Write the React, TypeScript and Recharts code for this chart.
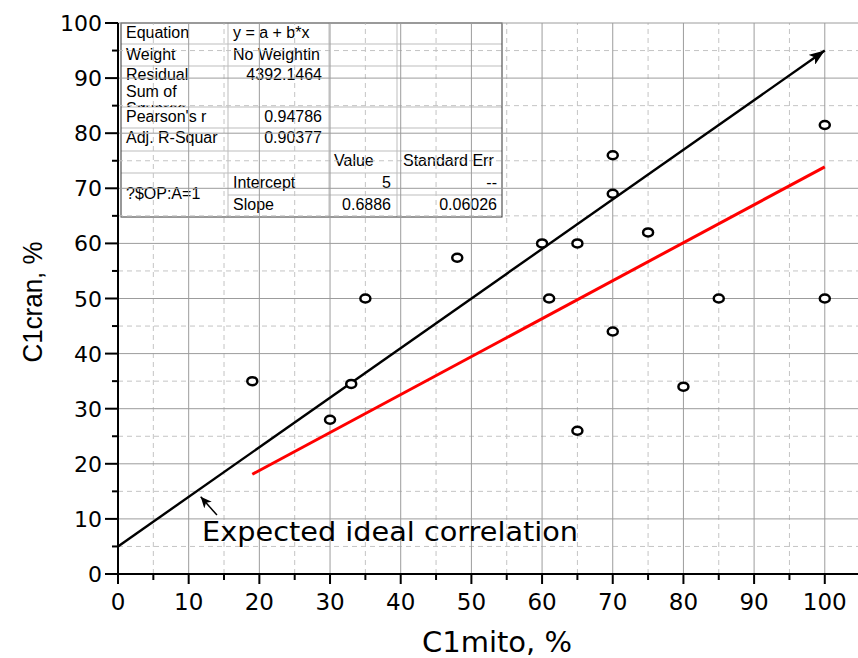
import React from 'react';
import { ScatterChart, Scatter, XAxis, YAxis, ReferenceLine, Customized } from 'recharts';

// measured points (C1mito, C1cran)
const points = [
  { x: 19, y: 35 },
  { x: 30, y: 28 },
  { x: 33, y: 34.5 },
  { x: 35, y: 50 },
  { x: 48, y: 57.4 },
  { x: 60, y: 60 },
  { x: 61, y: 50 },
  { x: 65, y: 60 },
  { x: 65, y: 26 },
  { x: 70, y: 76 },
  { x: 70, y: 69 },
  { x: 70, y: 44 },
  { x: 75, y: 62 },
  { x: 80, y: 34 },
  { x: 85, y: 50 },
  { x: 100, y: 81.5 },
  { x: 100, y: 50 },
];

const fitLine = [{ x: 19, y: 18.1 }, { x: 100, y: 73.9 }];
const idealLine = [{ x: 0, y: 5 }, { x: 100, y: 95 }];
const pointerArrow = [{ x: 14, y: 10.7 }, { x: 11.7, y: 14 }];
const noteAnchor = [{ x: 11.9, y: 6 }];
const noteText = 'Expected ideal correlation';

const xTicks = [0, 5, 10, 15, 20, 25, 30, 35, 40, 45, 50, 55, 60, 65, 70, 75, 80, 85, 90, 95, 100];
const yTicks = [0, 5, 10, 15, 20, 25, 30, 35, 40, 45, 50, 55, 60, 65, 70, 75, 80, 85, 90, 95, 100];
const majorGrid = [10, 20, 30, 40, 50, 60, 70, 80, 90, 100];
const minorGrid = [5, 15, 25, 35, 45, 55, 65, 75, 85, 95];

// fit results box
const statLabels = ['Equation', 'Weight', 'Residual', "Pearson's r", 'Adj. R-Squar'];
const statValues = ['y = a + b*x', 'No Weightin', '4392.1464', '0.94786', '0.90377'];
const paramHeader = ['Value', 'Standard Err'];
const paramNames = ['Intercept', 'Slope'];
const paramValues = ['5', '0.6886'];
const paramErrors = ['--', '0.06026'];
const groupLabel = '?$OP:A=1';

const sans = 'Liberation Sans, Arial, sans-serif';
const wide = 'DejaVu Sans, sans-serif';

const XTick = (props: any) => {
  const { x, y, payload } = props;
  const major = payload.value % 10 === 0;
  return (
    <g>
      <line x1={x} x2={x} y1={y} y2={y + (major ? 10 : 6)} stroke="#000" strokeWidth={2} />
      {major && (
        <text x={x} y={y + 36} textAnchor="middle" fontFamily={wide} fontSize={23} fill="#000">
          {payload.value}
        </text>
      )}
    </g>
  );
};

const YTick = (props: any) => {
  const { x, y, payload } = props;
  const major = payload.value % 10 === 0;
  return (
    <g>
      <line x1={x} x2={x - (major ? 13 : 6)} y1={y} y2={y} stroke="#000" strokeWidth={2} />
      {major && (
        <text x={x - 16} y={y + 8} textAnchor="end" fontFamily={wide} fontSize={22} fill="#000">
          {payload.value}
        </text>
      )}
    </g>
  );
};

const Markers = () => (
  <defs>
    <marker id="bigArrow" markerUnits="userSpaceOnUse" markerWidth={18} markerHeight={12} refX={16} refY={6} orient="auto">
      <path d="M0,0 L16,6 L0,12 L4,6 Z" fill="#000" />
    </marker>
    <marker id="smallArrow" markerUnits="userSpaceOnUse" markerWidth={12} markerHeight={10} refX={11} refY={5} orient="auto">
      <path d="M0,0 L11,5 L0,10 L3,5 Z" fill="#000" />
    </marker>
    <clipPath id="residClip">
      <rect x={121} y={66} width={107} height={41} />
    </clipPath>
  </defs>
);

const FitTable = () => {
  const cols = [121, 228, 329, 397, 502];
  const rows = [23, 44, 66, 107, 128, 151, 173, 195, 217];
  const base = [38, 60, 80, 122, 143];
  const txt = { fontFamily: sans, fontSize: 16, fill: '#000' };
  return (
    <g>
      <rect x={cols[0]} y={rows[0]} width={cols[4] - cols[0]} height={rows[8] - rows[0]} fill="#fff" />
      {rows.slice(1, 7).map((r) => (
        <line key={r} x1={cols[0]} x2={cols[4]} y1={r} y2={r} stroke="#bdbdbd" />
      ))}
      <line x1={cols[1]} x2={cols[4]} y1={rows[7]} y2={rows[7]} stroke="#bdbdbd" />
      {cols.slice(1, 4).map((c) => (
        <line key={c} x1={c} x2={c} y1={rows[0]} y2={rows[8]} stroke="#bdbdbd" />
      ))}
      <rect x={cols[0]} y={rows[0]} width={cols[4] - cols[0]} height={rows[8] - rows[0]} fill="none" stroke="#333" />
      {statLabels.map((s, i) =>
        i === 2 ? (
          <g key={s} clipPath="url(#residClip)">
            <text x={126} y={80} {...txt}>Residual</text>
            <text x={126} y={97} {...txt}>Sum of</text>
            <text x={126} y={114} {...txt}>Squares</text>
          </g>
        ) : (
          <text key={s} x={126} y={base[i]} {...txt}>{s}</text>
        )
      )}
      {statValues.map((s, i) =>
        i < 2 ? (
          <text key={s} x={233} y={base[i]} {...txt}>{s}</text>
        ) : (
          <text key={s} x={322} y={base[i]} textAnchor="end" {...txt}>{s}</text>
        )
      )}
      <text x={334} y={166} {...txt}>{paramHeader[0]}</text>
      <text x={403} y={166} {...txt}>{paramHeader[1]}</text>
      <text x={126} y={199} {...txt}>{groupLabel}</text>
      {paramNames.map((s, i) => (
        <g key={s}>
          <text x={233} y={188 + i * 22} {...txt}>{s}</text>
          <text x={391} y={188 + i * 22} textAnchor="end" {...txt}>{paramValues[i]}</text>
          <text x={497} y={188 + i * 22} textAnchor="end" {...txt}>{paramErrors[i]}</text>
        </g>
      ))}
    </g>
  );
};

const Dot = (p: any) => (
  <ellipse cx={p.cx} cy={p.cy} rx={5} ry={4} fill="#fff" stroke="#000" strokeWidth={2.5} />
);

const Empty = () => <g />;

const Note = (p: any) => (
  <text x={p.cx} y={p.cy} fontFamily={wide} fontSize={26} textLength={376} lengthAdjust="spacingAndGlyphs" fill="#000">
    {noteText}
  </text>
);

export default function App() {
  return (
    <div style={{ position: 'absolute', left: 0, top: 0, background: '#fff' }}>
      <ScatterChart width={858} height={658} margin={{ top: 23, right: 0, bottom: 0, left: 0 }}>
        <Customized component={<Markers />} />
        {minorGrid.map((v) => (
          <ReferenceLine key={'mx' + v} x={v} stroke="#c4c4c4" strokeDasharray="5 4" />
        ))}
        {minorGrid.map((v) => (
          <ReferenceLine key={'my' + v} y={v} stroke="#c4c4c4" strokeDasharray="5 4" />
        ))}
        {majorGrid.map((v) => (
          <ReferenceLine key={'Mx' + v} x={v} stroke="#9c9c9c" />
        ))}
        {majorGrid.map((v) => (
          <ReferenceLine key={'My' + v} y={v} stroke="#9c9c9c" />
        ))}
        <XAxis
          type="number"
          dataKey="x"
          domain={[0, 104.7]}
          ticks={xTicks}
          interval={0}
          height={84}
          allowDataOverflow
          axisLine={{ stroke: '#000', strokeWidth: 2 }}
          tickLine={false}
          tickSize={0}
          tickMargin={0}
          tick={<XTick />}
          label={{
            content: () => (
              <text x={497} y={652} textAnchor="middle" fontFamily={wide} fontSize={28} textLength={150} lengthAdjust="spacingAndGlyphs" fill="#000">
                C1mito, %
              </text>
            ),
          }}
        />
        <YAxis
          type="number"
          dataKey="y"
          domain={[0, 100]}
          ticks={yTicks}
          interval={0}
          width={118}
          allowDataOverflow
          axisLine={{ stroke: '#000', strokeWidth: 2 }}
          tickLine={false}
          tickSize={0}
          tickMargin={0}
          tick={<YTick />}
          label={{
            content: () => (
              <text x={42} y={302} transform="rotate(-90 42 302)" textAnchor="middle" fontFamily={sans} fontSize={27} textLength={121} lengthAdjust="spacingAndGlyphs" fill="#000">
                C1cran, %
              </text>
            ),
          }}
        />
        <Customized component={<FitTable />} />
        <Scatter data={idealLine} isAnimationActive={false} shape={<Empty />} line={{ stroke: '#000', strokeWidth: 2.4, markerEnd: 'url(#bigArrow)' }} />
        <Scatter data={pointerArrow} isAnimationActive={false} shape={<Empty />} line={{ stroke: '#000', strokeWidth: 1.5, markerEnd: 'url(#smallArrow)' }} />
        <Scatter data={fitLine} isAnimationActive={false} shape={<Empty />} line={{ stroke: '#ff0000', strokeWidth: 3 }} />
        <Scatter data={points} isAnimationActive={false} shape={<Dot />} />
        <Scatter data={noteAnchor} isAnimationActive={false} shape={<Note />} />
      </ScatterChart>
    </div>
  );
}
